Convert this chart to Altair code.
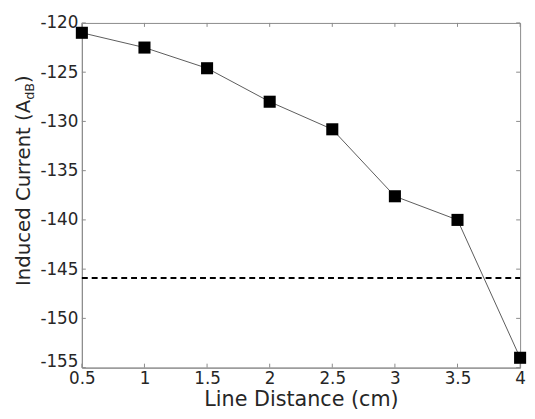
import altair as alt
import pandas as pd

# data
distance_cm = [0.5, 1.0, 1.5, 2.0, 2.5, 3.0, 3.5, 4.0]
induced_current_db = [-121.0, -122.5, -124.6, -128.0, -130.8, -137.6, -140.0, -154.0]
threshold_db = [-145.9]
x_ticks = [0.5, 1.0, 1.5, 2.0, 2.5, 3.0, 3.5, 4.0]
y_ticks = [-155, -150, -145, -140, -135, -130, -125, -120]
x_title = "Line Distance (cm)"
y_title_parts = ["Induced Current (A", "dB", ")"]

W, H = 445, 350
FONT = "DejaVu Sans"
FRAME = "#8a8a8a"
TXT = "#262626"

df = pd.DataFrame({"d": distance_cm, "c": induced_current_db})
xs = alt.Scale(domain=[0.5, 4.0], nice=False, zero=False)
ys = alt.Scale(domain=[-155, -120], nice=False, zero=False)

base = alt.Chart(df)

line = base.mark_line(color="#5a5a5a", strokeWidth=1).encode(
    x=alt.X("d:Q", scale=xs,
            axis=alt.Axis(values=x_ticks, title=x_title, ticks=False, grid=False,
                          labelExpr="toString(datum.value)", labelFontSize=17,
                          labelPadding=3, titleFontSize=21, titlePadding=2,
                          labelFlush=False, labelFont=FONT, titleFont=FONT,
                          titleFontWeight="normal", labelColor=TXT, titleColor=TXT,
                          domainColor=FRAME)),
    y=alt.Y("c:Q", scale=ys,
            axis=alt.Axis(values=y_ticks, title=None, ticks=False, grid=False,
                          labelExpr="toString(datum.value)", labelFontSize=17,
                          labelPadding=4, labelFlush=False, labelFont=FONT,
                          labelColor=TXT, domainColor=FRAME,
                          labelOffset={"condition": {"test": "datum.value == -155", "value": -6},
                                       "value": 0})),
)
pts = base.mark_square(color="black", opacity=1, size=150).encode(
    x=alt.X("d:Q", scale=xs), y=alt.Y("c:Q", scale=ys)
)

thr = alt.Chart(pd.DataFrame({"t": threshold_db})).mark_rule(
    color="black", strokeWidth=2, strokeDash=[6, 4]
).encode(y=alt.Y("t:Q", scale=ys), x=alt.value(0), x2=alt.value(W))

xt = alt.Chart(pd.DataFrame({"v": x_ticks}))
yt = alt.Chart(pd.DataFrame({"v": y_ticks}))
tick_style = dict(color=FRAME, strokeWidth=1)
xb = xt.mark_rule(**tick_style).encode(x=alt.X("v:Q", scale=xs), y=alt.value(H), y2=alt.value(H - 4))
xtop = xt.mark_rule(**tick_style).encode(x=alt.X("v:Q", scale=xs), y=alt.value(0), y2=alt.value(4))
yl = yt.mark_rule(**tick_style).encode(y=alt.Y("v:Q", scale=ys), x=alt.value(0), x2=alt.value(4))
yr = yt.mark_rule(**tick_style).encode(y=alt.Y("v:Q", scale=ys), x=alt.value(W), x2=alt.value(W - 4))

one = pd.DataFrame({"k": [0]})
tx = -53
t1 = alt.Chart(one).mark_text(angle=270, align="right", baseline="alphabetic",
                              font=FONT, fontSize=20, color=TXT).encode(
    x=alt.value(tx), y=alt.value(78), text=alt.value(y_title_parts[0]))
t2 = alt.Chart(one).mark_text(angle=270, align="left", baseline="alphabetic",
                              font=FONT, fontSize=13, color=TXT).encode(
    x=alt.value(tx + 4), y=alt.value(78), text=alt.value(y_title_parts[1]))
t3 = alt.Chart(one).mark_text(angle=270, align="left", baseline="alphabetic",
                              font=FONT, fontSize=20, color=TXT).encode(
    x=alt.value(tx), y=alt.value(61), text=alt.value(y_title_parts[2]))

chart = alt.layer(line, thr, xb, xtop, yl, yr, pts, t1, t2, t3).properties(
    width=W, height=H,
    background="white",
    autosize=alt.AutoSizeParams(type="none"),
    padding={"left": 75, "top": 12, "right": 7, "bottom": 49},
).configure_view(stroke=FRAME, strokeWidth=1)

chart.save("out.html", embed_options={"renderer": "svg", "actions": False})
